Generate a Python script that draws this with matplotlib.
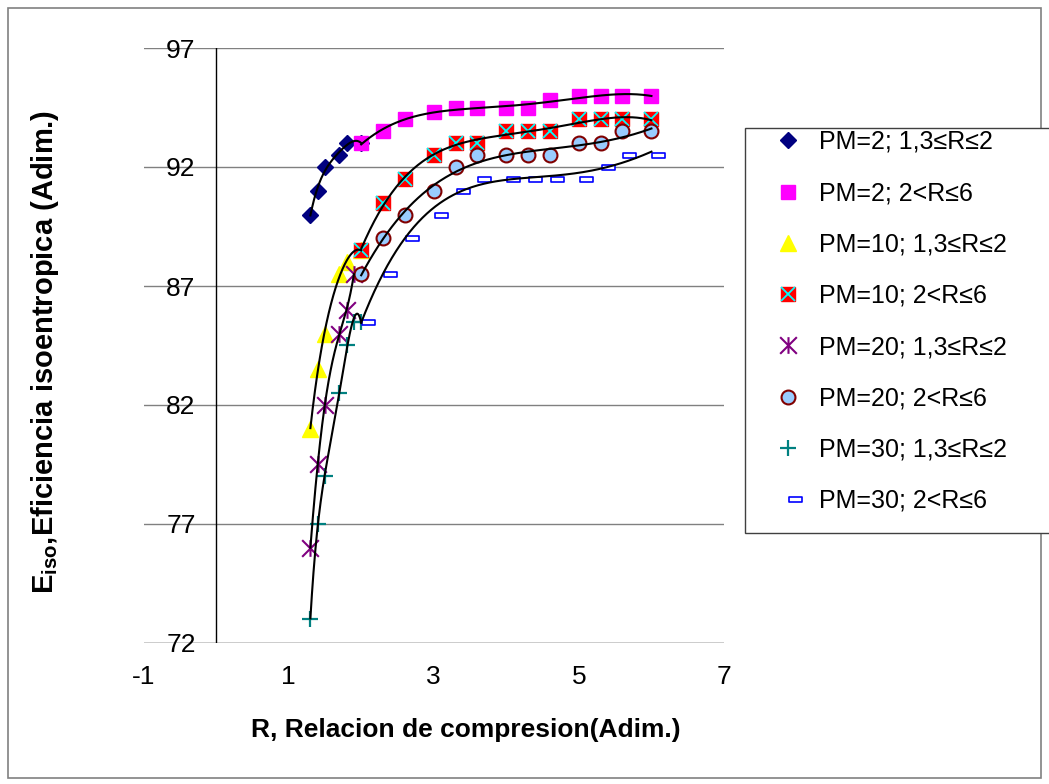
import numpy as np
import matplotlib
matplotlib.use("Agg")
import matplotlib.pyplot as plt
from matplotlib.lines import Line2D
from matplotlib.path import Path
from matplotlib.patches import Rectangle
from matplotlib.legend_handler import HandlerTuple

plt.rcParams['font.family'] = ['Liberation Sans', 'DejaVu Sans']
plt.rcParams['mathtext.fontset'] = 'custom'
plt.rcParams['mathtext.rm'] = 'Liberation Sans'
plt.rcParams['mathtext.bf'] = 'Liberation Sans:bold'

# ---- data: compression ratio R vs isentropic efficiency ----
r_low_pm2 = [1.3, 1.4, 1.5, 1.7, 1.8, 2.0]
e_low_pm2 = [90.0, 91.0, 92.0, 92.5, 93.0, 93.0]

r_high = [2.0, 2.3, 2.6, 3.0, 3.3, 3.6, 4.0, 4.3, 4.6, 5.0, 5.3, 5.6, 6.0]
e_high_pm2 = [93.0, 93.5, 94.0, 94.3, 94.5, 94.5, 94.5, 94.5, 94.8, 95.0, 95.0, 95.0, 95.0]

r_low_pm10 = [1.3, 1.4, 1.5, 1.7, 1.8, 2.0]
e_low_pm10 = [81.0, 83.5, 85.0, 87.5, 88.0, 88.5]
e_high_pm10 = [88.5, 90.5, 91.5, 92.5, 93.0, 93.0, 93.5, 93.5, 93.5, 94.0, 94.0, 94.0, 94.0]

r_low_pm20 = [1.3, 1.4, 1.5, 1.7, 1.8, 1.9]
e_low_pm20 = [76.0, 79.5, 82.0, 85.0, 86.0, 87.5]
e_high_pm20 = [87.5, 89.0, 90.0, 91.0, 92.0, 92.5, 92.5, 92.5, 92.5, 93.0, 93.0, 93.5, 93.5]

r_low_pm30 = [1.3, 1.4, 1.5, 1.7, 1.8, 1.9, 2.0]
e_low_pm30 = [73.0, 77.0, 79.0, 82.5, 84.5, 85.5, 85.5]
e_high_pm30 = [85.5, 87.5, 89.0, 90.0, 91.0, 91.5, 91.5, 91.5, 91.5, 91.5, 92.0, 92.5, 92.5]

labels = ["PM=2; 1,3≤R≤2", "PM=2; 2<R≤6",
          "PM=10; 1,3≤R≤2", "PM=10; 2<R≤6",
          "PM=20; 1,3≤R≤2", "PM=20; 2<R≤6",
          "PM=30; 1,3≤R≤2", "PM=30; 2<R≤6"]

x_ticks = [-1, 1, 3, 5, 7]
y_ticks = [72, 77, 82, 87, 92, 97]

# ---- custom markers ----
asterisk = Path([(-1, -1), (1, 1), (-1, 1), (1, -1), (0, -1), (0, 1)],
                [Path.MOVETO, Path.LINETO, Path.MOVETO, Path.LINETO,
                 Path.MOVETO, Path.LINETO])
dash = Path([(0.1, -0.18), (1.0, -0.18), (1.0, 0.18), (0.1, 0.18), (0.1, -0.18)],
            [Path.MOVETO, Path.LINETO, Path.LINETO, Path.LINETO, Path.CLOSEPOLY])

W, H = 1049, 784
fig = plt.figure(figsize=(W / 100, H / 100), dpi=100)
ax = fig.add_axes([143.5 / W, 1 - 643 / H, (724 - 143.5) / W, (643 - 48) / H])
ax.set_xlim(-1, 7)
ax.set_ylim(72, 97)

for s in ax.spines.values():
    s.set_visible(False)
for y in y_ticks[1:]:
    ax.axhline(y, color='#808080', lw=1.0, zorder=1)
ax.axhline(72, color='black', lw=1.0, zorder=1)
ax.plot([0, 0], [72, 97], color='black', lw=1.0, zorder=1)

ax.set_xticks(x_ticks)
ax.set_xticklabels([str(v) for v in x_ticks])
ax.set_yticks(y_ticks)
ax.set_yticklabels([str(v) for v in y_ticks])
ax.tick_params(axis='x', length=0, pad=15.5, labelsize=19)
ax.tick_params(axis='y', length=0, pad=-37.6, labelsize=19)

styles = [
    dict(marker='D', ms=8.5, color='#000080', mec='#000080', ls='none'),
    dict(marker='s', ms=10.5, color='#FF00FF', mec='#FF00FF', ls='none'),
    dict(marker='^', ms=11.5, color='#FFFF00', mec='#FFFF00', ls='none'),
    dict(marker='s', ms=10.5, color='#FF0000', mec='#FF0000', ls='none'),
    dict(marker=asterisk, ms=12, color='#800080', mec='#800080', mew=1.5, ls='none'),
    dict(marker='o', ms=10, mfc='#99CCFF', mec='#800000', mew=1.5, ls='none'),
    dict(marker='+', ms=11.5, color='#008080', mec='#008080', mew=1.6, ls='none'),
    dict(marker=dash, ms=20, mfc='white', mec='#0000FF', mew=1.2, ls='none'),
]
cross = dict(marker='x', ms=10.5, mec='#00FFFF', mew=1.3, ls='none')

series = [(r_low_pm2, e_low_pm2), (r_high, e_high_pm2),
          (r_low_pm10, e_low_pm10), (r_high, e_high_pm10),
          (r_low_pm20, e_low_pm20), (r_high, e_high_pm20),
          (r_low_pm30, e_low_pm30), (r_high, e_high_pm30)]

handles = []
for i, ((xs, ys), st) in enumerate(zip(series, styles)):
    ax.plot(xs, ys, zorder=3 + i * 0.1, **st)
    h = Line2D([], [], **st)
    if i == 3:
        ax.plot(xs, ys, zorder=3 + i * 0.1 + 0.05, **cross)
        h = (h, Line2D([], [], **cross))
    handles.append(h)

# polynomial trend lines over each series' range
for xs, ys in series:
    coef = np.polyfit(xs, ys, 4)
    xx = np.linspace(min(xs), max(xs), 200)
    ax.plot(xx, np.polyval(coef, xx), color='black', lw=1.5, zorder=5)

# legend
fig.add_artist(Rectangle((745 / W, 1 - 533 / H), (1070 - 745) / W, (533 - 128) / H,
                         transform=fig.transFigure, facecolor='white',
                         edgecolor='#404040', lw=1.0, zorder=0))
fig.legend(handles, labels, loc='upper left',
           bbox_to_anchor=(775.5 / W, 1 - 130 / H), bbox_transform=fig.transFigure,
           frameon=False, borderpad=0, borderaxespad=0, handlelength=1.0,
           handletextpad=0.74, labelspacing=1.09, fontsize=18,
           handler_map={tuple: HandlerTuple(ndivide=1)})

fig.text(466 / W, 1 - 730 / H, "R, Relacion de compresion(Adim.)",
         fontsize=19, fontweight='bold', ha='center', va='center')
fig.text(45 / W, 1 - 352 / H, r"$\mathbf{E}_{\mathbf{iso}}$,Eficiencia isoentropica (Adim.)",
         fontsize=21, fontweight='bold', rotation=90, ha='center', va='center')

fig.add_artist(Rectangle((8 / W, 1 - 778 / H), (1041 - 8) / W, (778 - 8) / H,
                         transform=fig.transFigure, fill=False,
                         edgecolor='#808080', lw=1.2, zorder=-1))

fig.savefig("out.png", dpi=100)
